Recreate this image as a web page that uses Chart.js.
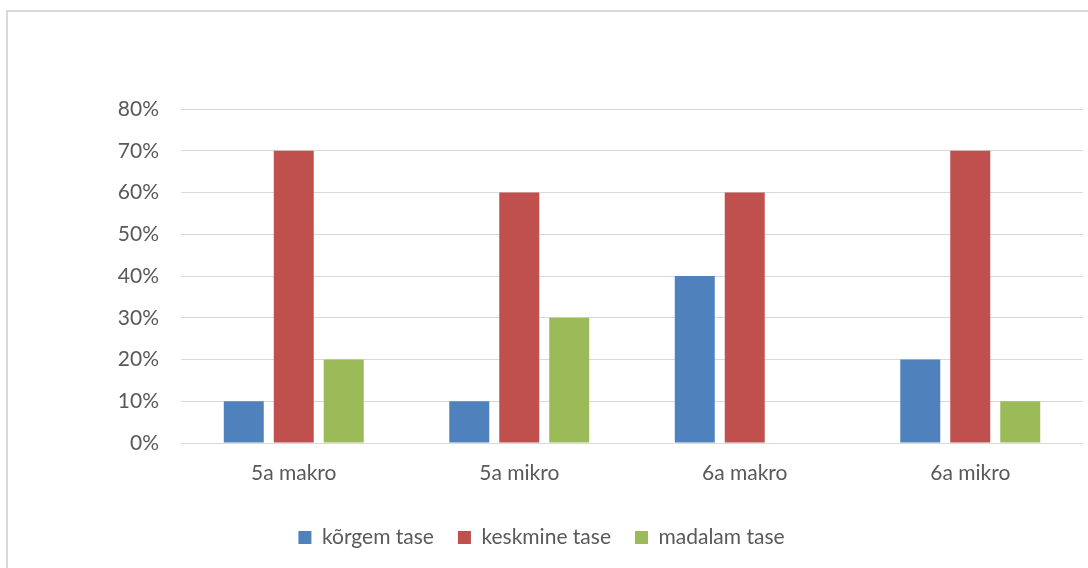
<!DOCTYPE html>
<html>
<head>
<meta charset="utf-8">
<script src="https://cdn.jsdelivr.net/npm/chart.js@4.4.1/dist/chart.umd.min.js"></script>
<style>
  html, body { margin: 0; padding: 0; background: #ffffff; overflow: hidden; }
  #frame {
    position: absolute; left: 6px; top: 10px;
    width: 1200px; height: 700px;
    border: 2px solid #d9d9d9; box-sizing: border-box;
  }
  #wrap { position: absolute; left: 0; top: 0; width: 1088px; height: 568px; }
</style>
</head>
<body>
<div id="frame"></div>
<div id="wrap"><canvas id="chart"></canvas></div>
<script>
// Categories and series (percent of students per level)
const categories = ['5a makro', '5a mikro', '6a makro', '6a mikro'];
const seriesNames = ['kõrgem tase', 'keskmine tase', 'madalam tase'];
const korgem = [10, 10, 40, 20];
const keskmine = [70, 60, 60, 70];
const madalam = [20, 30, 0, 10];
const yTickLabels = ['0%', '10%', '20%', '30%', '40%', '50%', '60%', '70%', '80%'];

const colors = ['#4f81bd', '#c0504d', '#9bbb59'];
const textColor = '#595959';
const gridColor = '#d9d9d9';
const fontFamily = 'Lato, "Liberation Sans", sans-serif';

const seriesValues = [korgem, keskmine, madalam];

new Chart(document.getElementById('chart'), {
  type: 'bar',
  data: {
    labels: categories,
    datasets: seriesNames.map((name, i) => ({
      label: name,
      data: seriesValues[i],
      backgroundColor: colors[i],
      borderWidth: 0,
      categoryPercentage: 0.665,
      barPercentage: 0.8
    }))
  },
  options: {
    responsive: true,
    maintainAspectRatio: false,
    animation: false,
    layout: { padding: { left: 0, right: 5, top: 109, bottom: 10 } },
    plugins: {
      tooltip: { enabled: false },
      legend: {
        position: 'bottom',
        labels: {
          color: textColor,
          font: { family: fontFamily, size: 21 },
          boxWidth: 13,
          boxHeight: 13,
          padding: 24
        }
      }
    },
    scales: {
      x: {
        grid: { display: false, drawTicks: false },
        border: { display: false },
        ticks: {
          color: textColor,
          font: { family: fontFamily, size: 21 },
          padding: 18,
          maxRotation: 0
        },
        afterFit: (scale) => { scale.height = 60; }
      },
      y: {
        min: 0,
        max: 80,
        grid: { color: gridColor, lineWidth: 1, drawTicks: false },
        border: { display: false },
        ticks: {
          stepSize: 10,
          color: textColor,
          font: { family: fontFamily, size: 21 },
          padding: 22,
          callback: (value) => yTickLabels[Math.round(value / 10)]
        },
        afterFit: (scale) => { scale.width = 181; }
      }
    }
  }
});
</script>
</body>
</html>
